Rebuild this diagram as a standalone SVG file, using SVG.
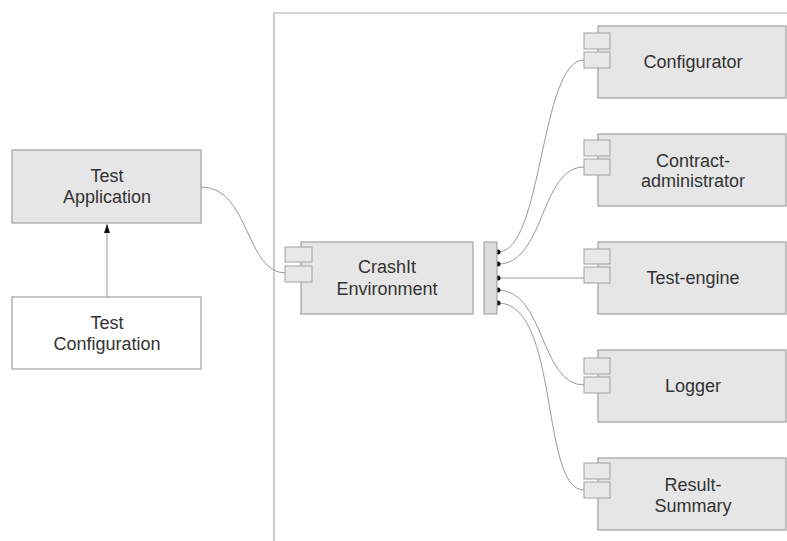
<svg xmlns="http://www.w3.org/2000/svg" width="787" height="541" viewBox="0 0 787 541">
<style>
.box{fill:#e6e6e6;stroke:#a0a0a0;stroke-width:1.2}
.wbox{fill:#fff;stroke:#a0a0a0;stroke-width:1.2}
.port{fill:#e8e8e8;stroke:#a0a0a0;stroke-width:1}
.t{font-family:"Liberation Sans",Arial,sans-serif;font-size:18px;fill:#333;text-anchor:middle}
.c{fill:none;stroke:#999;stroke-width:1}
.dot{fill:#111}
</style>
<defs>
<marker id="ah" viewBox="0 0 9 6" refX="9" refY="3" markerWidth="9" markerHeight="6" orient="auto" markerUnits="userSpaceOnUse">
<path d="M0,0 L9,3 L0,6 Z" fill="#111"/>
</marker>
</defs>
<rect width="787" height="541" fill="#fff"/>
<path d="M274,541 V13 H787" fill="none" stroke="#aaa" stroke-width="1.2"/>
<g id="connectors">
<line class="c" x1="107" y1="297" x2="107" y2="224" marker-end="url(#ah)"/>
<path class="c" d="M201,187 C250,187 245,273 286,273"/>
<path class="c" d="M498,252 C543,252 540,60 584,60"/>
<path class="c" d="M498,264 C545,264 540,167 584,167"/>
<path class="c" d="M498,278 H584"/>
<path class="c" d="M498,290 C545,290 540,385 584,385"/>
<path class="c" d="M498,303 C560,303 540,490 584,490"/>
<circle class="dot" cx="498" cy="252" r="2.5"/>
<circle class="dot" cx="498" cy="264" r="2.5"/>
<circle class="dot" cx="498" cy="278" r="2.5"/>
<circle class="dot" cx="498" cy="290" r="2.5"/>
<circle class="dot" cx="498" cy="303" r="2.5"/>
</g>
<g id="test-application">
<rect class="box" x="12" y="150" width="189" height="73"/>
<text class="t" x="107" y="182">Test</text>
<text class="t" x="107" y="203">Application</text>
</g>
<g id="test-configuration">
<rect class="wbox" x="12" y="297" width="189" height="72"/>
<text class="t" x="107" y="329">Test</text>
<text class="t" x="107" y="350">Configuration</text>
</g>
<g id="crashit-environment">
<rect class="box" x="301" y="242" width="172" height="72"/>
<rect class="port" x="285" y="247" width="27" height="15"/>
<rect class="port" x="285" y="266" width="27" height="16"/>
<text class="t" x="387" y="273">CrashIt</text>
<text class="t" x="387" y="295">Environment</text>
</g>
<g id="interface-bar">
<rect x="484" y="242" width="13" height="72" fill="#dcdcdc" stroke="#999" stroke-width="1"/>
</g>
<g id="configurator">
<rect class="box" x="598" y="26" width="188" height="72"/>
<rect class="port" x="584" y="33" width="26" height="16"/>
<rect class="port" x="584" y="52" width="26" height="16"/>
<text class="t" x="693" y="68">Configurator</text>
</g>
<g id="contract-administrator">
<rect class="box" x="598" y="134" width="188" height="72"/>
<rect class="port" x="584" y="140" width="26" height="16"/>
<rect class="port" x="584" y="159" width="26" height="16"/>
<text class="t" x="693" y="167">Contract-</text>
<text class="t" x="693" y="187">administrator</text>
</g>
<g id="test-engine">
<rect class="box" x="598" y="242" width="188" height="72"/>
<rect class="port" x="584" y="249" width="26" height="15"/>
<rect class="port" x="584" y="267" width="26" height="16"/>
<text class="t" x="693" y="284">Test-engine</text>
</g>
<g id="logger">
<rect class="box" x="598" y="350" width="188" height="72"/>
<rect class="port" x="584" y="358" width="26" height="16"/>
<rect class="port" x="584" y="377" width="26" height="16"/>
<text class="t" x="693" y="392">Logger</text>
</g>
<g id="result-summary">
<rect class="box" x="598" y="458" width="188" height="72"/>
<rect class="port" x="584" y="463" width="26" height="16"/>
<rect class="port" x="584" y="482" width="26" height="16"/>
<text class="t" x="693" y="491">Result-</text>
<text class="t" x="693" y="512">Summary</text>
</g>
</svg>
